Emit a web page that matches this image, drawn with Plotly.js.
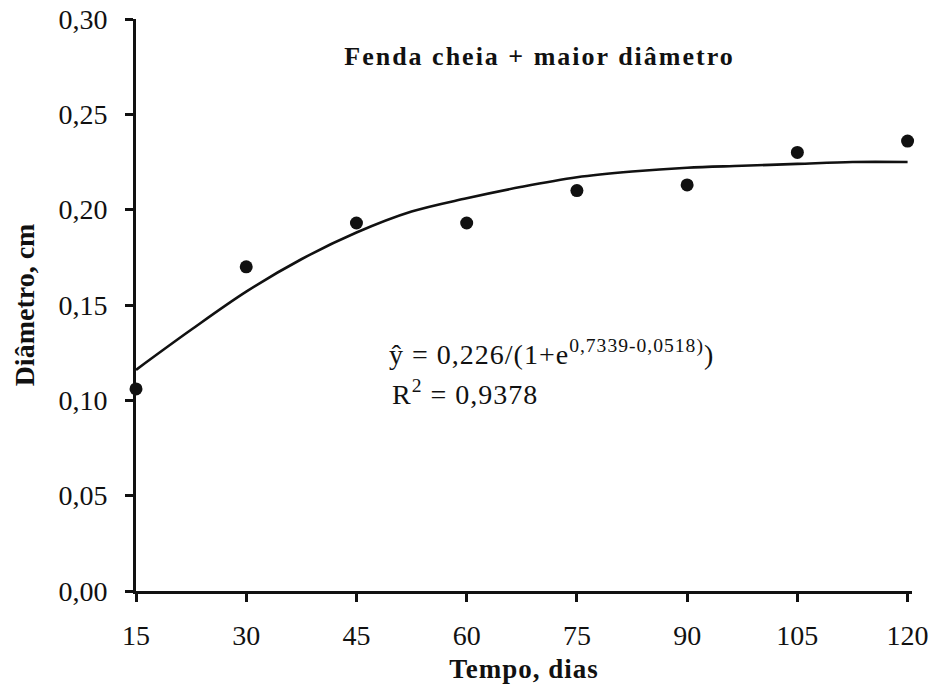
<!DOCTYPE html>
<html>
<head>
<meta charset="utf-8">
<script src="https://cdn.plot.ly/plotly-3.0.1.min.js"></script>
<style>
  html, body { margin: 0; padding: 0; background: #fff; }
  #chart { width: 936px; height: 694px; }
  .gtitle { letter-spacing: 2px; }
  .xtitle { letter-spacing: 1px; }
  .annotation-text { letter-spacing: 1px; }
</style>
</head>
<body>
<div id="chart"></div>
<script>
// Observed means (Tempo, dias vs Diâmetro, cm)
const tempoDias = [15, 30, 45, 60, 75, 90, 105, 120];
const diametroObs = [0.106, 0.170, 0.193, 0.193, 0.210, 0.213, 0.230, 0.236];

// Fitted curve
const curvaX = [15, 22.5, 30, 37.5, 45, 52.5, 60, 67.5, 75, 82.5, 90, 97.5, 105, 112.5, 120];
const curvaY = [0.116, 0.137, 0.157, 0.174, 0.188, 0.199, 0.206, 0.212, 0.217, 0.220, 0.222, 0.223, 0.224, 0.225, 0.225];

const xTicks = [15, 30, 45, 60, 75, 90, 105, 120];
const yTicks = [0, 0.05, 0.10, 0.15, 0.20, 0.25, 0.30];

const ink = '#111111';
const serif = '"Liberation Serif", "Times New Roman", serif';

const traces = [
  {
    x: curvaX, y: curvaY, type: 'scatter', mode: 'lines',
    line: { color: ink, width: 2.6, shape: 'spline', smoothing: 1 },
    hoverinfo: 'skip', showlegend: false, cliponaxis: false
  },
  {
    x: tempoDias, y: diametroObs, type: 'scatter', mode: 'markers',
    marker: { color: ink, size: 13 },
    showlegend: false, cliponaxis: false
  }
];

const layout = {
  width: 936, height: 694,
  paper_bgcolor: '#ffffff', plot_bgcolor: '#ffffff',
  separators: ',.',
  font: { family: serif, color: ink, size: 27 },
  margin: { l: 136, r: 24, t: 19, b: 103, autoexpand: false },
  showlegend: false,
  title: {
    text: '<b>Fenda cheia + maior diâmetro</b>',
    font: { family: serif, size: 26, color: ink },
    xref: 'paper', x: 0.52, xanchor: 'center',
    yref: 'container', y: 1 - 56 / 694, yanchor: 'middle'
  },
  xaxis: {
    range: [15, 120.6],
    tickvals: xTicks,
    ticktext: xTicks.map(String),
    showgrid: false, zeroline: false,
    showline: true, linecolor: ink, linewidth: 3,
    ticks: 'outside', ticklen: 8, tickwidth: 3, tickcolor: ink,
    ticklabelstandoff: 9,
    tickfont: { family: serif, size: 28, color: ink },
    title: { text: '<b>Tempo, dias</b>', font: { family: serif, size: 27, color: ink }, standoff: 10 },
    automargin: false, fixedrange: true
  },
  yaxis: {
    range: [0, 0.30],
    tickvals: yTicks,
    tickformat: '.2f',
    showgrid: false, zeroline: false,
    showline: true, linecolor: ink, linewidth: 3,
    ticks: 'outside', ticklen: 8, tickwidth: 3, tickcolor: ink,
    ticklabelstandoff: 12,
    tickfont: { family: serif, size: 28, color: ink },
    title: { text: '<b>Diâmetro, cm</b>', font: { family: serif, size: 28, color: ink }, standoff: 16 },
    automargin: false, fixedrange: true
  },
  annotations: [
    {
      xref: 'paper', yref: 'paper', x: 0.323, y: 0.417,
      xanchor: 'left', yanchor: 'middle', showarrow: false, align: 'left',
      text: 'ŷ = 0,226/(1+e<sup>0,7339-0,0518)</sup>)',
      font: { family: serif, size: 28, color: ink }
    },
    {
      xref: 'paper', yref: 'paper', x: 0.327, y: 0.347,
      xanchor: 'left', yanchor: 'middle', showarrow: false, align: 'left',
      text: 'R<sup>2</sup> = 0,9378',
      font: { family: serif, size: 28, color: ink }
    }
  ]
};

Plotly.newPlot('chart', traces, layout, { displayModeBar: false, staticPlot: true });
</script>
</body>
</html>
